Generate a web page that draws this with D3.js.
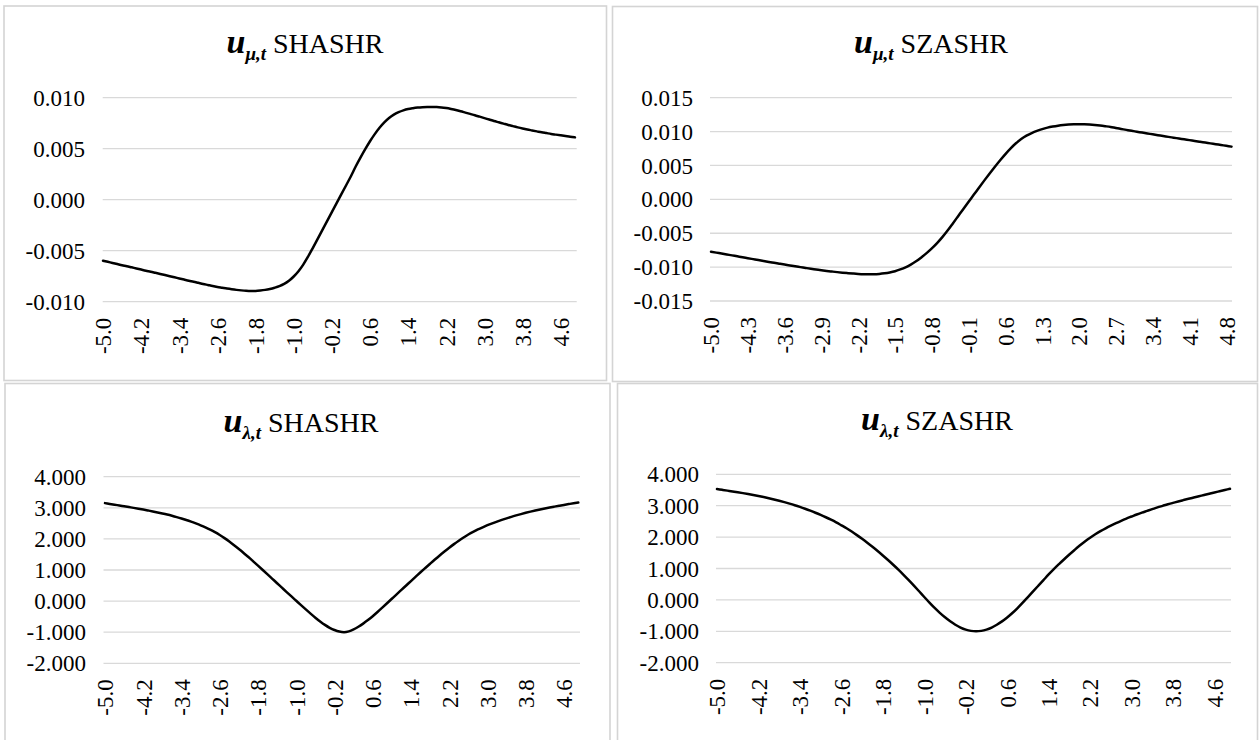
<!DOCTYPE html>
<html>
<head>
<meta charset="utf-8">
<script src="https://cdn.jsdelivr.net/npm/d3@7"></script>
<style>
  html, body { margin: 0; padding: 0; background: #ffffff; }
  svg { display: block; }
</style>
</head>
<body>
<svg id="chart" width="1260" height="740"></svg>
<script>
// ---------------- DATA ----------------
const categories = [
  -5.0,-4.9,-4.8,-4.7,-4.6,-4.5,-4.4,-4.3,-4.2,-4.1,
  -4.0,-3.9,-3.8,-3.7,-3.6,-3.5,-3.4,-3.3,-3.2,-3.1,
  -3.0,-2.9,-2.8,-2.7,-2.6,-2.5,-2.4,-2.3,-2.2,-2.1,
  -2.0,-1.9,-1.8,-1.7,-1.6,-1.5,-1.4,-1.3,-1.2,-1.1,
  -1.0,-0.9,-0.8,-0.7,-0.6,-0.5,-0.4,-0.3,-0.2,-0.1,
  0.0,0.1,0.2,0.3,0.4,0.5,0.6,0.7,0.8,0.9,
  1.0,1.1,1.2,1.3,1.4,1.5,1.6,1.7,1.8,1.9,
  2.0,2.1,2.2,2.3,2.4,2.5,2.6,2.7,2.8,2.9,
  3.0,3.1,3.2,3.3,3.4,3.5,3.6,3.7,3.8,3.9,
  4.0,4.1,4.2,4.3,4.4,4.5,4.6,4.7,4.8,4.9
];

// x tick labels (category axis label intervals)
const xTicksEvery8 = [-5.0,-4.2,-3.4,-2.6,-1.8,-1.0,-0.2,0.6,1.4,2.2,3.0,3.8,4.6];
const xTicksEvery7 = [-5.0,-4.3,-3.6,-2.9,-2.2,-1.5,-0.8,-0.1,0.6,1.3,2.0,2.7,3.4,4.1,4.8];

// y tick values
const yTicksMuSHASHR = [-0.010,-0.005,0.000,0.005,0.010];
const yTicksMuSZASHR = [-0.015,-0.010,-0.005,0.000,0.005,0.010,0.015];
const yTicksLambda   = [-2,-1,0,1,2,3,4];

// series
const muSHASHR = [
  -0.00598,-0.00609,-0.00620,-0.00631,-0.00642,-0.00652,-0.00663,-0.00674,-0.00685,-0.00696,
  -0.00706,-0.00717,-0.00728,-0.00739,-0.00750,-0.00761,-0.00772,-0.00783,-0.00794,-0.00804,
  -0.00815,-0.00826,-0.00836,-0.00846,-0.00855,-0.00863,-0.00871,-0.00878,-0.00884,-0.00889,
  -0.00893,-0.00895,-0.00894,-0.00890,-0.00884,-0.00875,-0.00863,-0.00848,-0.00826,-0.00795,
  -0.00753,-0.00701,-0.00636,-0.00559,-0.00474,-0.00386,-0.00298,-0.00210,-0.00122,-0.00034,
  0.00054,0.00142,0.00230,0.00325,0.00412,0.00495,0.00573,0.00643,0.00705,0.00758,
  0.00801,0.00834,0.00858,0.00876,0.00889,0.00897,0.00903,0.00907,0.00909,0.00910,
  0.00909,0.00905,0.00898,0.00889,0.00879,0.00867,0.00854,0.00841,0.00828,0.00814,
  0.00800,0.00786,0.00772,0.00759,0.00746,0.00733,0.00721,0.00709,0.00698,0.00688,
  0.00679,0.00670,0.00661,0.00653,0.00645,0.00638,0.00631,0.00624,0.00617,0.00611
];
const muSZASHR = [
  -0.00772,-0.00786,-0.00799,-0.00813,-0.00827,-0.00841,-0.00855,-0.00868,-0.00882,-0.00896,
  -0.00909,-0.00923,-0.00936,-0.00949,-0.00962,-0.00975,-0.00988,-0.01000,-0.01012,-0.01024,
  -0.01035,-0.01046,-0.01056,-0.01065,-0.01074,-0.01082,-0.01089,-0.01095,-0.01100,-0.01104,
  -0.01106,-0.01105,-0.01100,-0.01091,-0.01078,-0.01060,-0.01034,-0.01003,-0.00963,-0.00914,
  -0.00857,-0.00793,-0.00723,-0.00645,-0.00557,-0.00460,-0.00355,-0.00248,-0.00141,-0.00035,
  0.00070,0.00176,0.00280,0.00382,0.00481,0.00577,0.00668,0.00752,0.00827,0.00890,
  0.00940,0.00978,0.01010,0.01037,0.01058,0.01074,0.01087,0.01097,0.01104,0.01108,
  0.01109,0.01107,0.01103,0.01097,0.01089,0.01079,0.01068,0.01053,0.01039,0.01025,
  0.01011,0.00998,0.00985,0.00972,0.00960,0.00947,0.00935,0.00922,0.00910,0.00898,
  0.00886,0.00874,0.00862,0.00850,0.00838,0.00826,0.00814,0.00802,0.00790,0.00778
];
const lambdaSHASHR = [
  3.150,3.125,3.100,3.075,3.050,3.024,2.998,2.971,2.943,2.914,
  2.884,2.852,2.818,2.782,2.743,2.701,2.656,2.607,2.554,2.497,
  2.437,2.372,2.300,2.219,2.127,2.025,1.914,1.796,1.673,1.546,
  1.416,1.279,1.140,1.000,0.859,0.717,0.575,0.433,0.291,0.150,
  0.010,-0.130,-0.268,-0.403,-0.533,-0.655,-0.765,-0.858,-0.930,-0.980,
  -1.000,-0.972,-0.910,-0.826,-0.725,-0.611,-0.485,-0.350,-0.210,-0.068,
  0.075,0.218,0.360,0.502,0.644,0.786,0.927,1.065,1.202,1.337,
  1.468,1.594,1.716,1.832,1.942,2.045,2.140,2.226,2.304,2.374,
  2.440,2.500,2.557,2.611,2.662,2.710,2.755,2.798,2.839,2.877,
  2.913,2.947,2.979,3.009,3.038,3.066,3.093,3.119,3.145,3.170
];
const lambdaSZASHR = [
  3.530,3.505,3.480,3.455,3.429,3.401,3.372,3.342,3.310,3.275,
  3.238,3.199,3.157,3.113,3.066,3.016,2.962,2.904,2.842,2.776,
  2.706,2.632,2.553,2.468,2.376,2.283,2.176,2.063,1.945,1.820,
  1.690,1.555,1.415,1.270,1.120,0.965,0.800,0.630,0.455,0.275,
  0.093,-0.085,-0.255,-0.412,-0.555,-0.682,-0.791,-0.880,-0.945,-0.986,
  -1.000,-0.986,-0.945,-0.880,-0.792,-0.684,-0.559,-0.418,-0.262,-0.090,
  0.090,0.270,0.450,0.630,0.810,0.980,1.140,1.295,1.445,1.590,
  1.730,1.860,1.980,2.090,2.190,2.280,2.365,2.445,2.520,2.590,
  2.655,2.720,2.780,2.835,2.890,2.945,2.995,3.045,3.090,3.135,
  3.178,3.220,3.260,3.300,3.340,3.380,3.420,3.460,3.500,3.540
];

// ---------------- LAYOUT ----------------
const FONT = "'Liberation Serif','Times New Roman',serif";
const panels = [
  { series: muSHASHR, xTicks: xTicksEvery8, yTicks: yTicksMuSHASHR,
    sub: "\u03bc,t", name: "SHASHR",
    box: [4, 6, 602.5, 374.5], titleX: 305, titleY: 53,
    x0: 103, x1: 575, yTop: 97.7, yBot: 301.7, gx0: 102.7, gx1: 576.7, labelRight: 85 },
  { series: muSZASHR, xTicks: xTicksEvery7, yTicks: yTicksMuSZASHR,
    sub: "\u03bc,t", name: "SZASHR",
    box: [612.5, 6.5, 645, 375], titleX: 931, titleY: 53,
    x0: 711, x1: 1231.5, yTop: 97.7, yBot: 301, gx0: 710, gx1: 1232, labelRight: 693 },
  { series: lambdaSHASHR, xTicks: xTicksEvery8, yTicks: yTicksLambda,
    sub: "\u03bb,t", name: "SHASHR",
    box: [5, 383.5, 605, 400], titleX: 301, titleY: 432,
    x0: 105, x1: 578.3, yTop: 476.7, yBot: 663.3, gx0: 103.5, gx1: 580, labelRight: 86 },
  { series: lambdaSZASHR, xTicks: xTicksEvery8, yTicks: yTicksLambda,
    sub: "\u03bb,t", name: "SZASHR",
    box: [617.5, 383.5, 640, 400], titleX: 937, titleY: 430,
    x0: 717, x1: 1230, yTop: 474.3, yBot: 662.7, gx0: 716, gx1: 1231, labelRight: 699 }
];

const svg = d3.select("#chart");
svg.append("rect").attr("width", 1260).attr("height", 740).attr("fill", "#ffffff");

const fmtY = v => (v < 0 ? "-" : "") + Math.abs(v).toFixed(3);
const fmtX = v => (v < 0 ? "-" : "") + Math.abs(v).toFixed(1);

panels.forEach(p => {
  const g = svg.append("g");

  // panel border
  g.append("rect")
    .attr("x", p.box[0]).attr("y", p.box[1])
    .attr("width", p.box[2]).attr("height", p.box[3])
    .attr("fill", "#ffffff")
    .attr("stroke", "#d4d4d4").attr("stroke-width", 1.6);

  const x = d3.scalePoint().domain(categories).range([p.x0, p.x1]);
  const yMin = d3.min(p.yTicks), yMax = d3.max(p.yTicks);
  const y = d3.scaleLinear().domain([yMin, yMax]).range([p.yBot, p.yTop]);

  // gridlines
  g.append("g").selectAll("line").data(p.yTicks).join("line")
    .attr("x1", p.gx0).attr("x2", p.gx1)
    .attr("y1", d => y(d)).attr("y2", d => y(d))
    .attr("stroke", "#d9d9d9").attr("stroke-width", 1.3);

  // y axis labels
  const yAxis = g.append("g")
    .attr("transform", `translate(${p.labelRight},0)`)
    .call(d3.axisLeft(y).tickValues(p.yTicks).tickFormat(fmtY).tickSize(0).tickPadding(0));
  yAxis.select(".domain").remove();
  yAxis.attr("font-family", FONT).attr("font-size", 23);
  yAxis.selectAll("text").attr("fill", "#000").attr("dy", "0.33em")
    .style("font-family", FONT);

  // x axis labels (rotated)
  const xAxis = g.append("g")
    .attr("transform", `translate(0,${p.yBot})`)
    .call(d3.axisBottom(x).tickValues(p.xTicks).tickFormat(fmtX).tickSize(0));
  xAxis.select(".domain").remove();
  xAxis.attr("font-family", FONT).attr("font-size", 23);
  xAxis.selectAll("text")
    .attr("fill", "#000")
    .style("font-family", FONT)
    .attr("transform", "rotate(-90)")
    .attr("x", -16).attr("y", 0).attr("dy", "0.34em")
    .attr("text-anchor", "end");

  // line
  const line = d3.line()
    .x((d, i) => x(categories[i]))
    .y(d => y(d))
    .curve(d3.curveMonotoneX);
  g.append("path")
    .datum(p.series)
    .attr("d", line)
    .attr("fill", "none")
    .attr("stroke", "#000")
    .attr("stroke-width", 2.5)
    .attr("stroke-linejoin", "round")
    .attr("stroke-linecap", "round");

  // title
  const t = g.append("text")
    .attr("x", p.titleX).attr("y", p.titleY)
    .attr("text-anchor", "middle")
    .attr("font-family", FONT)
    .attr("fill", "#000");
  t.append("tspan").attr("font-size", 34).attr("font-weight", "bold").attr("font-style", "italic").text("u");
  t.append("tspan").attr("font-size", 19).attr("font-weight", "bold").attr("font-style", "italic").attr("dy", 7).text(p.sub);
  t.append("tspan").attr("font-size", 28).attr("dy", -7).text(" " + p.name);
});
</script>
</body>
</html>
